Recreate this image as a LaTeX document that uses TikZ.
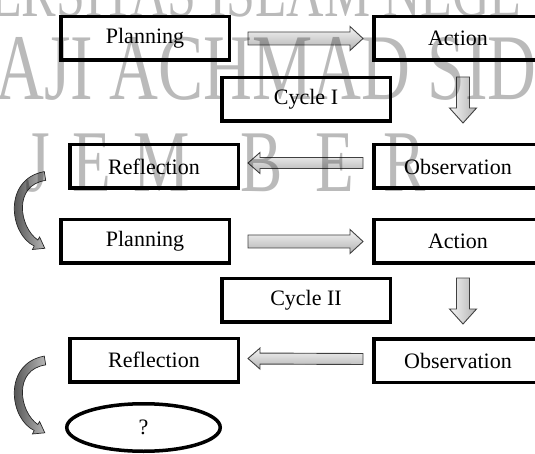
\documentclass[tikz,border=0pt]{standalone}
\usepackage{fontspec}
\setmainfont{Liberation Serif}
\usetikzlibrary{calc,shapes.geometric}
\tikzset{
  box/.style={draw=black, line width=3.5pt, minimum width=168.5pt, minimum height=43.5pt,
    inner sep=0pt, font=\fontsize{22}{26}\selectfont},
  oval/.style={ellipse, draw=black, line width=3.5pt, minimum width=153.5pt, minimum height=47.5pt,
    inner sep=0pt, font=\fontsize{22}{26}\selectfont},
  barr/.style={draw=black!75, line width=0.9pt, top color=gray!8, bottom color=gray!60},
  varr/.style={draw=black!75, line width=0.9pt, left color=gray!8, right color=gray!60},
  carr/.style={draw=black!85, line width=0.7pt, left color=black!80, right color=gray!55},
  wm/.style={text=black, opacity=0.27, inner sep=0pt, anchor=base west, xscale=0.72},
  curvarrow/.pic={
    \path[carr] (44.3,171.6) .. controls (3,179) and (9,234) .. (34.2,246)
      -- (32.4,249.5) -- (44.8,248.3) -- (39.6,237) -- (37.8,240)
      .. controls (19,227) and (13,185) .. (45.7,180.4) -- cycle;
  }
}
\newcommand{\blockarrow}[6]{%
  \coordinate (bat) at #1; \coordinate (bap) at #2;
  \coordinate (bah) at ($(bap)!#5!(bat)$);
  \path[#6] ($(bat)!#3!90:(bap)$) -- ($(bah)!#3!90:(bap)$) -- ($(bah)!#4!90:(bap)$)
    -- (bap) -- ($(bah)!#4!-90:(bap)$) -- ($(bah)!#3!-90:(bap)$)
    -- ($(bat)!#3!-90:(bap)$) -- cycle;}
\begin{document}
\begin{tikzpicture}[x=1pt,y=-1pt]
\useasboundingbox (0,0) rectangle (535,454);
\clip (0,0) rectangle (535,454);
% boxes
\node[box] (plan1) at (145,38.5) {Planning};
\node[box] (act1) at (458,38.5) {Action};
\node[box] (cyc1) at (306,99.5) {Cycle I};
\node[box] (refl1) at (154,166.5) {Reflection};
\node[box] (obs1) at (458,166.5) {Observation};
\node[box] (plan2) at (145,241.5) {Planning};
\node[box] (act2) at (458,241.5) {Action};
\node[box] (cyc2) at (306,300) {Cycle II};
\node[box] (refl2) at (154,360) {Reflection};
\node[box] (obs2) at (458,360.5) {Observation};
\node[oval] (end) at (143.5,427.5) {?};
% block arrows
\blockarrow{($(plan1.east)+(17,0)$)}{($(act1.west)+(-9,0)$)}{6.5pt}{12pt}{13pt}{barr}
\blockarrow{($(act1.south)+(5,15)$)}{($(obs1.north)+(5,-20)$)}{6.5pt}{13.5pt}{15pt}{varr}
\blockarrow{($(obs1.west)+(-9,-3.5)$)}{($(refl1.east)+(8,-3.5)$)}{5.5pt}{10.5pt}{12pt}{barr}
\blockarrow{($(plan2.east)+(17,0)$)}{($(act2.west)+(-9,0)$)}{6.5pt}{12pt}{13pt}{barr}
\blockarrow{($(act2.south)+(5,13)$)}{($(obs2.north)+(5,-13)$)}{6.5pt}{13.5pt}{15pt}{varr}
\blockarrow{($(obs2.west)+(-9,-1.5)$)}{($(refl2.east)+(8,-1.5)$)}{5.5pt}{10.5pt}{12pt}{barr}
% curved arrows
\coordinate (c1) at (0,0);
\coordinate (c2) at (0,184.5);
\pic at (c1) {curvarrow};
\pic at (c2) {curvarrow};
% watermark
\node[wm, font=\fontsize{72}{72}\selectfont] (wma) at (-10,17) {ERSITAS ISLAM NEGE};
\node[wm, font=\fontsize{94}{94}\selectfont] (wmb) at (-5,100) {AJI ACHMAD SID};
\node[wm, font=\fontsize{88}{88}\selectfont] (wj) at (25,192) {J};
\node[wm, font=\fontsize{88}{88}\selectfont] (we1) at (72,192) {E};
\node[wm, font=\fontsize{88}{88}\selectfont] (wm) at (133,192) {M};
\node[wm, font=\fontsize{88}{88}\selectfont] (wb) at (240,192) {B};
\node[wm, font=\fontsize{88}{88}\selectfont] (we2) at (315,192) {E};
\node[wm, font=\fontsize{88}{88}\selectfont] (wr) at (383,192) {R};
\end{tikzpicture}
\end{document}
